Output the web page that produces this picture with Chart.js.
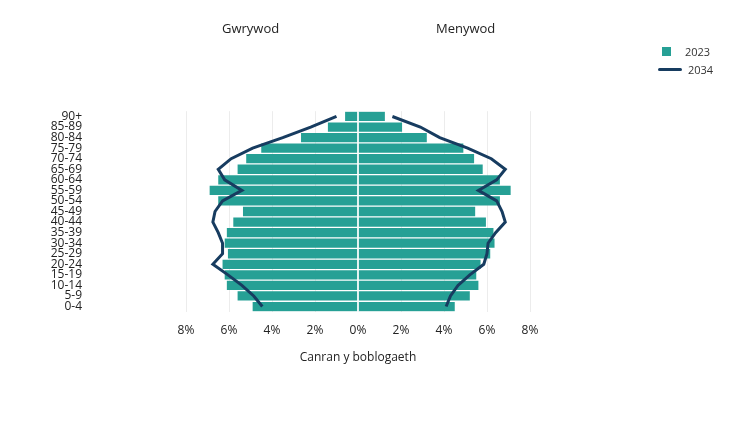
<!DOCTYPE html>
<html>
<head>
<meta charset="utf-8">
<script src="https://cdn.jsdelivr.net/npm/chart.js@4/dist/chart.umd.min.js"></script>
<style>
  body { margin: 0; background: #fff; font-family: "Open Sans", sans-serif; }
  #wrap { position: relative; width: 753px; height: 423px; }
  .hd { position: absolute; top: 19px; font-size: 13px; color: #222; }
  #legend { position: absolute; left: 658px; top: 42px; font-size: 11px; color: #333; }
  #legend div { display: flex; align-items: center; height: 18px; }
  .sw { width: 9px; height: 9px; background: #26a095; margin: 0 14px 0 4px; }
  .ln { width: 24px; height: 3px; background: #173c60; margin-right: 6px; border-radius: 2px; }
</style>
</head>
<body>
<div id="wrap">
  <canvas id="pyr" width="753" height="423"></canvas>
  <div class="hd" style="left:222px">Gwrywod</div>
  <div class="hd" style="left:436px">Menywod</div>
  <div id="legend">
    <div><span class="sw"></span>2023</div>
    <div><span class="ln"></span>2034</div>
  </div>
</div>
<script>
let ages = ['90+', '85-89', '80-84', '75-79', '70-74', '65-69', '60-64', '55-59', '50-54', '45-49',
  '40-44', '35-39', '30-34', '25-29', '20-24', '15-19', '10-14', '5-9', '0-4'];
let male2023 = [0.6, 1.4, 2.65, 4.5, 5.2, 5.6, 6.5, 6.9, 6.5, 5.35, 5.8, 6.1, 6.2, 6.05, 6.3, 6.2, 6.1, 5.6, 4.9];
let female2023 = [1.25, 2.05, 3.2, 4.9, 5.4, 5.8, 6.6, 7.1, 6.6, 5.45, 5.95, 6.3, 6.35, 6.15, 5.7, 5.5, 5.6, 5.2, 4.5];
let male2034 = [1.0, 2.2, 3.5, 4.9, 5.9, 6.5, 6.2, 5.4, 6.3, 6.65, 6.75, 6.5, 6.3, 6.3, 6.75, 6.05, 5.4, 4.85, 4.45];
let female2034 = [1.6, 2.9, 3.8, 5.1, 6.2, 6.85, 6.45, 5.6, 6.45, 6.7, 6.85, 6.4, 6.05, 6.0, 5.85, 5.2, 4.65, 4.3, 4.1];
let xTicks = [-8, -6, -4, -2, 0, 2, 4, 6, 8];

Chart.defaults.font.family = 'Open Sans';
Chart.defaults.color = '#222';

let teal = '#26a095';
let navy = '#173c60';

let zeroLine = {
  id: 'zeroLine',
  afterDatasetsDraw(chart) {
    let ctx = chart.ctx, x = chart.scales.x.getPixelForValue(0);
    ctx.save();
    ctx.strokeStyle = '#fff';
    ctx.lineWidth = 1.5;
    ctx.beginPath();
    ctx.moveTo(x, chart.chartArea.top);
    ctx.lineTo(x, chart.chartArea.bottom);
    ctx.stroke();
    ctx.restore();
  }
};

new Chart(document.getElementById('pyr'), {
  type: 'bar',
  data: {
    labels: ages,
    datasets: [{
      label: '2023',
      data: male2023.map(v => -v),
      backgroundColor: teal,
      grouped: false,
      barPercentage: 1,
      categoryPercentage: 0.88,
      order: 2
    }, {
      label: '2023',
      data: female2023,
      backgroundColor: teal,
      grouped: false,
      barPercentage: 1,
      categoryPercentage: 0.88,
      order: 2
    }, {
      type: 'line',
      label: '2034',
      data: male2034.map(v => -v),
      borderColor: navy,
      borderWidth: 3,
      pointRadius: 0,
      fill: false,
      order: 1
    }, {
      type: 'line',
      label: '2034',
      data: female2034,
      borderColor: navy,
      borderWidth: 3,
      pointRadius: 0,
      fill: false,
      order: 1
    }]
  },
  options: {
    indexAxis: 'y',
    responsive: false,
    animation: false,
    layout: { padding: { top: 36, right: 223, bottom: 8, left: 40 } },
    plugins: { legend: { display: false }, tooltip: { enabled: false } },
    scales: {
      x: {
        min: -8, max: 8,
        afterBuildTicks: scale => { scale.ticks = xTicks.map(v => ({ value: v })); },
        ticks: { callback: v => Math.abs(v) + '%', font: { size: 12 }, padding: 12 },
        grid: { color: '#ececec', drawTicks: false },
        border: { display: false },
        title: { display: true, text: 'Canran y boblogaeth', font: { size: 12 }, padding: { top: 12 } },
        afterFit: scale => { scale.height = 57; }
      },
      y: {
        grid: { display: false, drawTicks: false },
        border: { display: false },
        ticks: { font: { size: 12 }, padding: 104, autoSkip: false },
        afterFit: scale => { scale.width = 146; }
      }
    }
  },
  plugins: [zeroLine]
});
</script>
</body>
</html>
